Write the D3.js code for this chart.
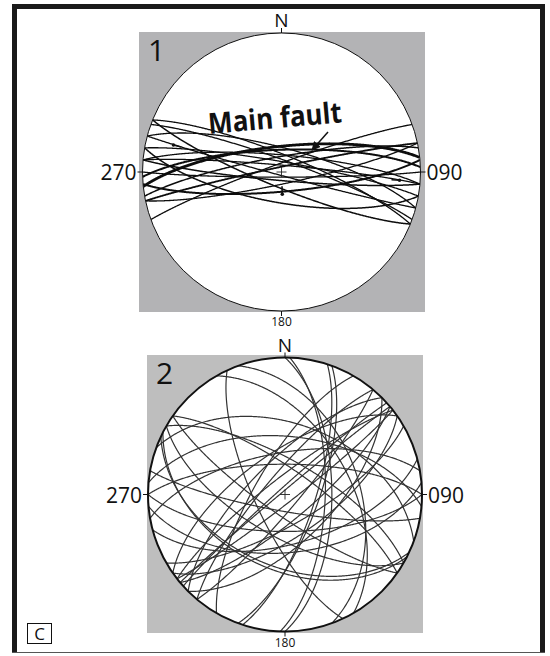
<!DOCTYPE html>
<html><head><meta charset="utf-8">
<script src="https://cdn.jsdelivr.net/npm/d3@7"></script>
<style>body{margin:0;background:#fff}svg{display:block}</style>
</head><body>
<svg id="chart" width="550" height="656"></svg>
<script>
// ---------- DATA ----------
// Net 1 great circles: dip direction (deg), dip (deg), line weight class
const net1DipDir = [354, 358, 350, 5, 22, 20, 202, 175, 185, 190, 15, 348, 10, 195, 168, 340, 5, 180];
const net1Dip    = [75,  77,  81,  80, 80, 83, 81, 78.5, 85, 72, 76, 87, 84, 88, 83, 85, 86, 87];
const net1Weight = [2.8, 2.0, 1.5, 1.3, 1.3, 1.3, 1.5, 2.0, 1.5, 1.5, 1.3, 1.8, 1.3, 1.3, 1.3, 1.3, 1.3, 1.3];
// Net 1 slip lineations: trend, plunge
const net1LinTrend  = [178, 94, 284];
const net1LinPlunge = [77, 16, 21];
// Net 2 great circles
const net2DipDir = [207, 205, 60, 92, 90, 20, 320, 318, 140, 135, 145, 315, 325, 310, 130,
                    0, 5, 180, 175, 190, 30, 210, 215, 35, 108, 70, 245, 110,
                    322, 142, 150, 300, 165, 350];
const net2Dip    = [45, 47, 51, 66, 62, 47, 88, 86, 75, 62, 65, 70, 65, 78, 82,
                    72, 55, 68, 55, 80, 70, 65, 78, 75, 72, 45, 72, 70,
                    80, 85, 72, 72, 60, 65];
const dirLabels = ["N", "090", "180", "270"];
const netNames = ["1", "2"];

// ---------- LAYOUT ----------
const svg = d3.select("#chart");
const FONT = "'Open Sans','Noto Sans',sans-serif";

// frame
svg.append("rect").attr("x",12).attr("y",4).attr("width",533).attr("height",5).attr("fill","#1a1a1a");
svg.append("rect").attr("x",12).attr("y",4).attr("width",5).attr("height",648).attr("fill","#1a1a1a");
svg.append("rect").attr("x",540).attr("y",4).attr("width",5).attr("height",648).attr("fill","#1a1a1a");
svg.append("line").attr("x1",12).attr("x2",545).attr("y1",652.5).attr("y2",652.5).attr("stroke","#555").attr("stroke-width",1);

function planePoints(dd, dip){
  const r = Math.PI/180, d = dd*r, a = dip*r, s = d - Math.PI/2;
  const pts = [];
  for (let t = 0; t <= 180; t += 0.5){
    const tr = t*r;
    const x = Math.cos(tr)*Math.sin(s) + Math.sin(tr)*Math.sin(d)*Math.cos(a);
    const y = Math.cos(tr)*Math.cos(s) + Math.sin(tr)*Math.cos(d)*Math.cos(a);
    const z = -Math.sin(tr)*Math.sin(a);
    const k = Math.sqrt(1/(1 - z));
    pts.push([x*k, y*k]);
  }
  return pts;
}
function linePoint(trend, plunge){
  const r = Math.PI/180;
  const x = Math.sin(trend*r)*Math.cos(plunge*r), y = Math.cos(trend*r)*Math.cos(plunge*r), z = -Math.sin(plunge*r);
  const k = Math.sqrt(1/(1 - z));
  return [x*k, y*k];
}

function drawNet(cfg){
  const {cx, cy, R, box, gray, dds, dips, weights, color, rimW, id} = cfg;
  const xs = d3.scaleLinear().domain([-1,1]).range([cx-R, cx+R]);
  const ys = d3.scaleLinear().domain([-1,1]).range([cy+R, cy-R]);
  const g = svg.append("g");
  g.append("rect").attr("x",box[0]).attr("y",box[1]).attr("width",box[2]-box[0]).attr("height",box[3]-box[1]).attr("fill",gray);
  g.append("circle").attr("cx",cx).attr("cy",cy).attr("r",R).attr("fill","#fff");
  svg.append("clipPath").attr("id","clip"+id).append("circle").attr("cx",cx).attr("cy",cy).attr("r",R);
  const line = d3.line().x(p=>xs(p[0])).y(p=>ys(p[1]));
  const gl = g.append("g").attr("clip-path","url(#clip"+id+")");
  gl.selectAll("path").data(dds.map((d,i)=>({dd:d, dip:dips[i], w:weights[i]})))
    .join("path").attr("d", d=>line(planePoints(d.dd, d.dip)))
    .attr("fill","none").attr("stroke",color).attr("stroke-width",d=>d.w).attr("stroke-linejoin","round");
  g.append("circle").attr("cx",cx).attr("cy",cy).attr("r",R).attr("fill","none").attr("stroke","#111").attr("stroke-width",rimW);
  // centre cross
  g.append("line").attr("x1",cx-5).attr("x2",cx+5).attr("y1",cy).attr("y2",cy).attr("stroke","#222").attr("stroke-width",0.9);
  g.append("line").attr("x1",cx).attr("x2",cx).attr("y1",cy-5).attr("y2",cy+5).attr("stroke","#222").attr("stroke-width",0.9);
  // direction ticks
  const tk = 5;
  g.append("line").attr("x1",cx).attr("x2",cx).attr("y1",cy-R-tk).attr("y2",cy-R).attr("stroke","#111");
  g.append("line").attr("x1",cx).attr("x2",cx).attr("y1",cy+R).attr("y2",cy+R+tk).attr("stroke","#111");
  g.append("line").attr("x1",cx-R-tk).attr("x2",cx-R).attr("y1",cy).attr("y2",cy).attr("stroke","#111");
  g.append("line").attr("x1",cx+R).attr("x2",cx+R+tk).attr("y1",cy).attr("y2",cy).attr("stroke","#111");
  // labels
  g.append("text").attr("x",cx).attr("y",cy-R-6).attr("text-anchor","middle").attr("font-family",FONT).attr("font-size",19).attr("fill","#111").text(dirLabels[0]);
  g.append("text").attr("x",cx+R+6).attr("y",cy+8).attr("text-anchor","start").attr("font-family",FONT).attr("font-size",21).attr("fill","#111").text(dirLabels[1]);
  g.append("text").attr("x",cx).attr("y",cy+R+15).attr("text-anchor","middle").attr("font-family",FONT).attr("font-size",12).attr("fill","#111").text(dirLabels[2]);
  g.append("text").attr("x",cx-R-6).attr("y",cy+8).attr("text-anchor","end").attr("font-family",FONT).attr("font-size",21).attr("fill","#111").text(dirLabels[3]);
  g.append("text").attr("x",box[0]+9).attr("y",box[1]+29).attr("font-family",FONT).attr("font-size",30).attr("fill","#111").text(netNames[id-1]);
  return {xs, ys, g};
}

const n1 = drawNet({id:1, cx:281.5, cy:172, R:139, box:[139,32,425,312], gray:"#b3b3b5",
  dds:net1DipDir, dips:net1Dip, weights:net1Weight, color:"#0d0d0d", rimW:1});
const n2 = drawNet({id:2, cx:285, cy:494.5, R:137, box:[147,355,423,633], gray:"#bebebe",
  dds:net2DipDir, dips:net2Dip, weights:net2DipDir.map(()=>1.2), color:"#333", rimW:2});

// lineations on net 1
net1LinTrend.forEach((t,i)=>{
  const p = linePoint(t, net1LinPlunge[i]);
  const px = n1.xs(p[0]), py = n1.ys(p[1]);
  const cx = n1.xs(0), cy = n1.ys(0);
  const L = Math.hypot(cx-px, cy-py) || 1;
  n1.g.append("line").attr("x1",px).attr("y1",py).attr("x2",px+(cx-px)/L*8).attr("y2",py+(cy-py)/L*8)
    .attr("stroke","#111").attr("stroke-width",1.6);
  n1.g.append("circle").attr("cx",px).attr("cy",py).attr("r",1.8).attr("fill","#111");
});

// main fault annotation
svg.append("defs").append("marker").attr("id","ah").attr("viewBox","0 0 10 10").attr("refX",9).attr("refY",5)
  .attr("markerWidth",6).attr("markerHeight",6).attr("orient","auto")
  .append("path").attr("d","M0,0 L10,5 L0,10 z").attr("fill","#111");
svg.append("text").attr("transform","translate(209,134) rotate(-5)").attr("font-family",FONT).attr("font-weight","bold")
  .attr("font-size",29).attr("textLength",134).attr("lengthAdjust","spacingAndGlyphs").attr("fill","#111").text("Main fault");
svg.append("line").attr("x1",328).attr("y1",132).attr("x2",312).attr("y2",150).attr("stroke","#111").attr("stroke-width",1.5).attr("marker-end","url(#ah)");

// panel label
svg.append("rect").attr("x",27.5).attr("y",623.5).attr("width",24).attr("height",20).attr("fill","#fff").attr("stroke","#111").attr("stroke-width",1);
svg.append("text").attr("x",39.5).attr("y",640).attr("text-anchor","middle").attr("font-family",FONT).attr("font-size",17).attr("fill","#111").text("C");
</script>
</body></html>
